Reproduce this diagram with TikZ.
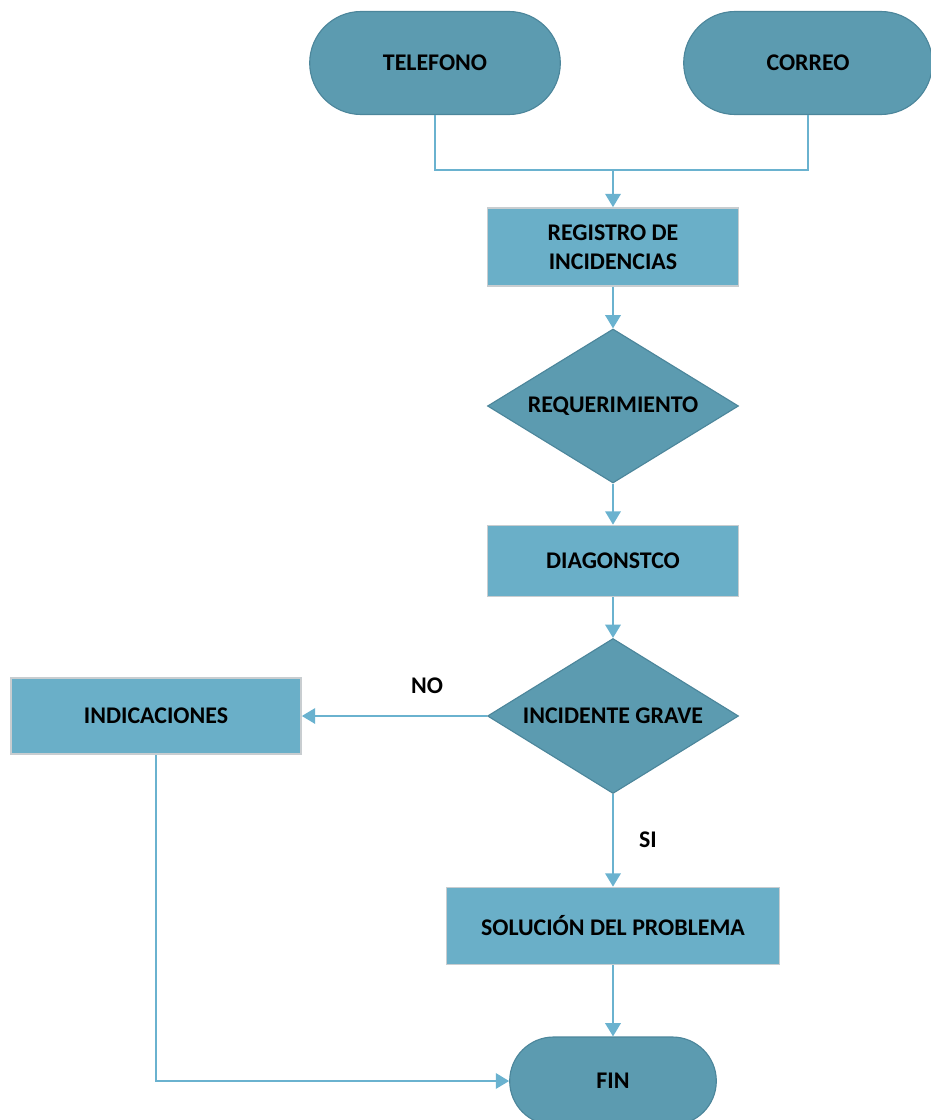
\documentclass[tikz,border=0pt]{standalone}
\usepackage{fontspec}
\setmainfont{Carlito}
\usetikzlibrary{shapes.geometric,shapes.misc,arrows.meta}

\definecolor{termfill}{RGB}{92,155,176}
\definecolor{termline}{RGB}{76,134,155}
\definecolor{boxfill}{RGB}{106,175,200}
\definecolor{boxline}{RGB}{200,205,208}
\definecolor{arrowcol}{RGB}{106,178,207}

\tikzset{
    terminal/.style={rounded rectangle, draw=termline, fill=termfill, line width=0.8pt,
                     minimum width=6.5cm, minimum height=2.575cm, font=\fontsize{17}{21}\selectfont\bfseries},
    process/.style={rectangle, draw=boxline, fill=boxfill, line width=1.2pt, align=center,
                    minimum width=6.275cm, font=\fontsize{17}{20.5}\selectfont\bfseries},
    decision/.style={diamond, draw=termline, fill=termfill, line width=0.8pt, inner sep=0pt, aspect=1.63,
                     minimum width=6.275cm, minimum height=3.85cm, font=\fontsize{17}{21}\selectfont\bfseries},
    flow/.style={draw=arrowcol, line width=1.5pt},
    flowarrow/.style={flow, -{Triangle[length=9.5pt,width=11pt]}},
    answer/.style={font=\fontsize{17}{21}\selectfont\bfseries}
}

\begin{document}
\begin{tikzpicture}
    \useasboundingbox (0,0) rectangle (23.275,-28);
    \clip (0,0) rectangle (23.275,-28);

    \node[terminal] (tel) at (10.875,-1.575) {TELEFONO};
    \node[terminal, minimum width=6.45cm] (cor) at (20.2,-1.575) {CORREO};
    \coordinate (join) at (15.325,-4.25);

    \node[process, minimum height=1.95cm] (reg) at (15.325,-6.175) {REGISTRO DE\\INCIDENCIAS};
    \node[decision] (req) at (15.325,-10.15) {REQUERIMIENTO};
    \node[process, minimum height=1.775cm] (diag) at (15.325,-14.025) {DIAGONSTCO};
    \node[decision, minimum height=3.875cm] (grave) at (15.325,-17.9) {INCIDENTE GRAVE};
    \node[process, minimum width=7.25cm, minimum height=1.9cm] (ind) at (3.9,-17.9) {INDICACIONES};
    \node[process, minimum width=8.325cm, minimum height=1.925cm] (sol) at (15.325,-23.15) {SOLUCIÓN DEL PROBLEMA};
    \node[terminal, minimum width=5.4cm, minimum height=2.2cm] (fin) at (15.325,-27.025) {FIN};

    \draw[flow] (tel.south) |- (join) -| (cor.south);
    \draw[flowarrow] (join) -- (reg.north);
    \draw[flowarrow] (reg.south) -- (req.north);
    \draw[flowarrow] (req.south) -- (diag.north);
    \draw[flowarrow] (diag.south) -- (grave.north);
    \draw[flowarrow] (grave.west) -- (ind.east);
    \node[answer] (no) at (10.675,-17.15) {NO};
    \draw[flowarrow] (grave.south) -- (sol.north);
    \node[answer] (si) at (16.2,-21.0) {SI};
    \draw[flowarrow] (sol.south) -- (fin.north);
    \draw[flowarrow] (ind.south) |- (fin.west);

\end{tikzpicture}
\end{document}
